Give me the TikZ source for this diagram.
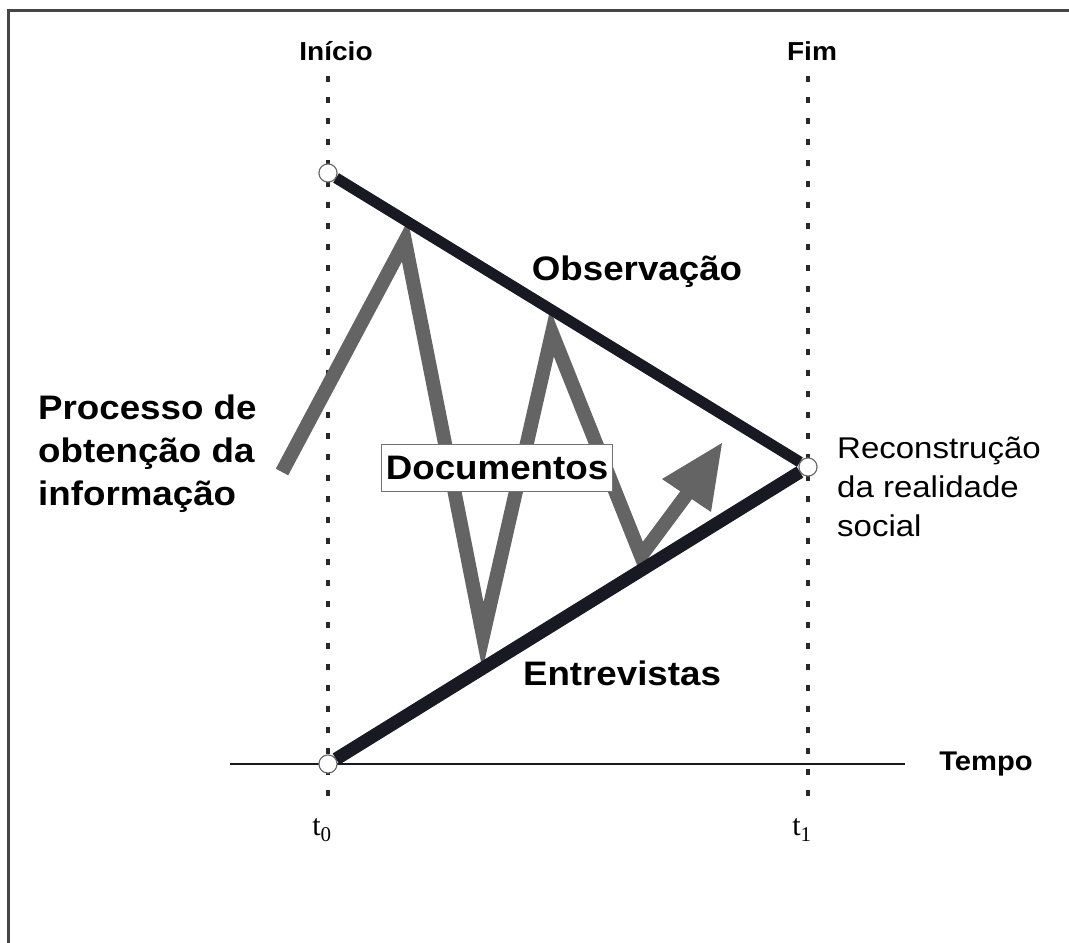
\documentclass[tikz,border=0pt]{standalone}
\usepackage{fontspec}
\setmainfont{Liberation Sans}
\newfontfamily\lblfont[FakeStretch=1.08]{Liberation Sans}
\newfontfamily\recfont[FakeStretch=1.1]{Liberation Sans}
\newfontfamily\tfont{Liberation Serif}
\usetikzlibrary{calc}
\definecolor{frame}{RGB}{70,70,70}
\definecolor{ink}{RGB}{25,25,35}
\definecolor{zig}{RGB}{100,100,100}
\definecolor{dots}{RGB}{40,40,40}
\tikzset{
  framestyle/.style={draw=frame,line width=3pt},
  guide/.style={draw=dots,line width=3.5pt,dash pattern=on 6pt off 15pt},
  axis/.style={draw=ink,line width=2.2pt},
  bigline/.style={draw=ink,line width=12pt},
  zigline/.style={draw=zig,line width=14pt,line join=miter,miter limit=20},
  dotnode/.style={circle,draw=black!60,fill=white,line width=1pt,minimum size=18pt,inner sep=0pt},
  biglabel/.style={font=\lblfont\bfseries\fontsize{34}{40}\selectfont,text=black,inner sep=0pt},
  toplabel/.style={font=\lblfont\bfseries\fontsize{26}{30}\selectfont,text=black,inner sep=0pt},
  reclabel/.style={font=\recfont\fontsize{30}{39}\selectfont,text=black,inner sep=0pt,align=left},
  tlabel/.style={font=\tfont\fontsize{30}{34}\selectfont,text=black,inner sep=0pt},
  docbox/.style={draw=black!55,fill=white,line width=1.2pt,minimum width=231pt,minimum height=47pt,inner sep=0pt}
}
\begin{document}
\begin{tikzpicture}[x=1pt,y=-1pt]
\useasboundingbox (0,0) rectangle (1069,943);
\fill[white] (0,0) rectangle (1069,943);
% frame
\coordinate (fTL) at (8,10);
\coordinate (fTR) at (1069,10);
\coordinate (fBL) at (8,943);
\draw[framestyle] (fTR) -- (fTL) -- (fBL);
% guides
\coordinate (gL1) at (328,76);
\coordinate (gL2) at (328,800);
\coordinate (gR1) at (808,76);
\coordinate (gR2) at (808,800);
\draw[guide] (gL1) -- (gL2);
\draw[guide] (gR1) -- (gR2);
% time axis
\coordinate (ax1) at (230,764);
\coordinate (ax2) at (905,764);
\draw[axis] (ax1) -- (ax2);
% zigzag process
\coordinate (zA) at (282,472);
\coordinate (zB) at (405,241);
\coordinate (zC) at (483,636);
\coordinate (zD) at (552,333);
\coordinate (zE) at (641,556);
\coordinate (zF) at (690,490);
\draw[zigline] (zA) -- (zB) -- (zC) -- (zD) -- (zE) -- (zF);
\coordinate (hTip) at (722,443);
\coordinate (hL) at (662,479);
\coordinate (hR) at (711,512);
\fill[zig] (hL) -- (hTip) -- (hR) -- cycle;
% circle nodes
\node[dotnode] (top) at (328,173) {};
\node[dotnode] (end) at (808,467) {};
\node[dotnode] (start) at (328,764) {};
% thick lines
\draw[bigline,line width=11pt] (top) -- (end);
\draw[bigline,line width=13pt] (start) -- (end);
\node[dotnode] at (top) {};
\node[dotnode] at (end) {};
\node[dotnode] at (start) {};
% labels
\node[toplabel] (inicio) at (336,51) {Início};
\node[toplabel] (fim) at (812,51) {Fim};
\node[biglabel] (obs) at (637,272) {Observação};
\node[biglabel] (ent) at (622,673) {Entrevistas};
\node[docbox] (doc) at (497,468) {};
\node[biglabel] (doctext) at (doc) {Documentos};
\node[biglabel,align=left,anchor=west,font=\lblfont\bfseries\fontsize{34}{43}\selectfont] (proc) at (38,454) {Processo de\\obtenção da\\informação};
\node[reclabel,anchor=west] (rec) at (837,487) {Reconstrução\\da realidade\\social};
\node[toplabel,font=\lblfont\bfseries\fontsize{27}{30}\selectfont] (tempo) at (986,764) {Tempo};
\node[tlabel] (t0) at (322,830) {t\textsubscript{0}};
\node[tlabel] (t1) at (802,830) {t\textsubscript{1}};
\end{tikzpicture}
\end{document}
